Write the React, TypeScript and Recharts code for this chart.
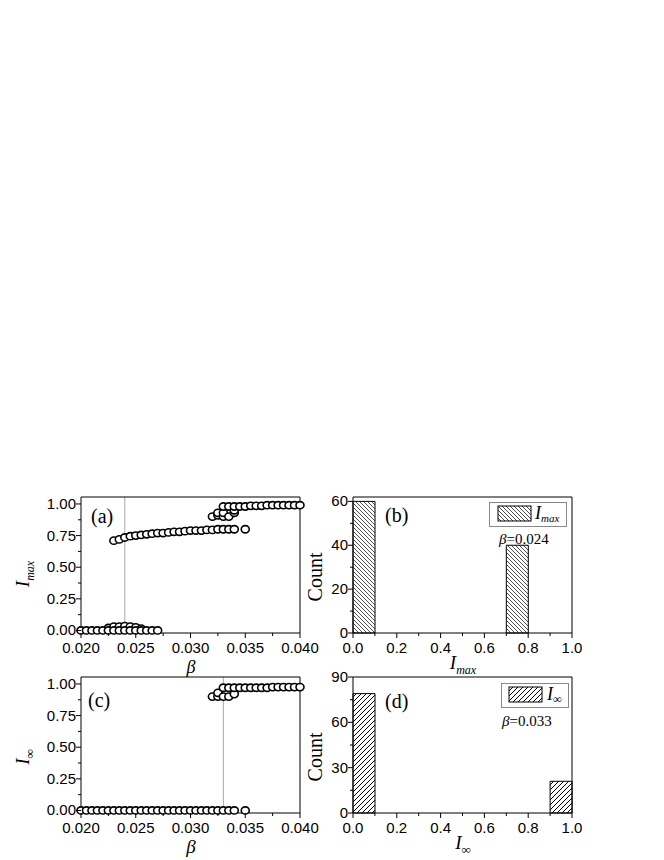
import {
  Bar,
  BarChart,
  ReferenceLine,
  Scatter,
  ScatterChart,
  XAxis,
  YAxis,
} from "recharts";

// panel (a): I_max vs beta as [beta, value]
const imaxBump: [number, number][] = [
  [0.0225, 0.02], [0.023, 0.03], [0.0235, 0.03], [0.024, 0.035],
  [0.0245, 0.03], [0.025, 0.025], [0.0255, 0.015],
];
const imaxZero: [number, number][] = [
  [0.02, 0], [0.0205, 0], [0.021, 0], [0.0215, 0], [0.022, 0], [0.0225, 0],
  [0.023, 0], [0.0235, 0], [0.024, 0], [0.0245, 0], [0.025, 0], [0.0255, 0],
  [0.026, 0], [0.0265, 0], [0.027, 0],
];
const imaxMid: [number, number][] = [
  [0.023, 0.71], [0.0235, 0.72], [0.024, 0.735], [0.0245, 0.745], [0.025, 0.75],
  [0.0255, 0.755], [0.026, 0.76], [0.0265, 0.765], [0.027, 0.77], [0.0275, 0.77],
  [0.028, 0.775], [0.0285, 0.78], [0.029, 0.78], [0.0295, 0.785], [0.03, 0.79],
  [0.0305, 0.79], [0.031, 0.79], [0.0315, 0.795], [0.032, 0.795], [0.0325, 0.8],
  [0.033, 0.8], [0.0335, 0.8], [0.034, 0.8], [0.035, 0.8],
];
const imaxHigh: [number, number][] = [
  [0.032, 0.9], [0.0325, 0.91], [0.0325, 0.93], [0.033, 0.9], [0.033, 0.93],
  [0.033, 0.98], [0.0335, 0.9], [0.0335, 0.98], [0.034, 0.93], [0.034, 0.95],
  [0.034, 0.98], [0.0345, 0.98], [0.035, 0.98], [0.0355, 0.985], [0.036, 0.985],
  [0.0365, 0.985], [0.037, 0.99], [0.0375, 0.99], [0.038, 0.99], [0.0385, 0.99],
  [0.039, 0.99], [0.0395, 0.99], [0.04, 0.99],
];

// panel (c): I_inf vs beta
const iinfZero: [number, number][] = [
  [0.02, 0], [0.0205, 0], [0.021, 0], [0.0215, 0], [0.022, 0], [0.0225, 0],
  [0.023, 0], [0.0235, 0], [0.024, 0], [0.0245, 0], [0.025, 0], [0.0255, 0],
  [0.026, 0], [0.0265, 0], [0.027, 0], [0.0275, 0], [0.028, 0], [0.0285, 0],
  [0.029, 0], [0.0295, 0], [0.03, 0], [0.0305, 0], [0.031, 0], [0.0315, 0],
  [0.032, 0], [0.0325, 0], [0.033, 0], [0.0335, 0], [0.034, 0], [0.035, 0],
];
const iinfHigh: [number, number][] = [
  [0.032, 0.9], [0.0325, 0.9], [0.0325, 0.93], [0.033, 0.9], [0.033, 0.97],
  [0.0335, 0.9], [0.0335, 0.97], [0.034, 0.92], [0.034, 0.97], [0.0345, 0.97],
  [0.035, 0.97], [0.0355, 0.97], [0.036, 0.97], [0.0365, 0.97], [0.037, 0.97],
  [0.0375, 0.975], [0.038, 0.975], [0.0385, 0.975], [0.039, 0.975], [0.0395, 0.975],
  [0.04, 0.975],
];

// panels (b), (d): histograms over 10 bins of width 0.1
const binCenters = [0.05, 0.15, 0.25, 0.35, 0.45, 0.55, 0.65, 0.75, 0.85, 0.95];
const imaxCounts = [60, 0, 0, 0, 0, 0, 0, 40, 0, 0];
const iinfCounts = [79, 0, 0, 0, 0, 0, 0, 0, 0, 21];

const betaMajor = [0.02, 0.025, 0.03, 0.035, 0.04];
const betaMinor = [0.0225, 0.0275, 0.0325, 0.0375];
const fracMajor = [0, 0.25, 0.5, 0.75, 1];
const fracMinor = [0.125, 0.375, 0.625, 0.875];
const binMajor = [0, 0.2, 0.4, 0.6, 0.8, 1];
const binMinor = [0.1, 0.3, 0.5, 0.7, 0.9];
const countMajorB = [0, 20, 40, 60];
const countMinorB = [10, 30, 50];
const countMajorD = [0, 30, 60, 90];
const countMinorD = [15, 45, 75];

const SANS = "'Liberation Sans', Arial, sans-serif";
const SERIF = "'Liberation Serif', 'Times New Roman', serif";

const toPts = (rows: [number, number][]) => rows.map(([b, v]) => ({ b, v }));
const merge = (a: number[], b: number[]) => [...a, ...b].sort((x, y) => x - y);
const isMajor = (v: number, majors: number[]) => majors.some((m) => Math.abs(m - v) < 1e-9);

function bottomTick(majors: number[], digits: number) {
  // eslint-disable-next-line @typescript-eslint/no-explicit-any
  return (props: any) => {
    const { x, y, payload } = props;
    const major = isMajor(payload.value, majors);
    return (
      <g>
        <line x1={x} y1={y} x2={x} y2={y + (major ? 5 : 3)} stroke="#000" />
        {major && (
          <text x={x} y={y + 20} textAnchor="middle" fontFamily={SANS} fontSize={15} fill="#000">
            {payload.value.toFixed(digits)}
          </text>
        )}
      </g>
    );
  };
}

function leftTick(majors: number[], digits: number) {
  // eslint-disable-next-line @typescript-eslint/no-explicit-any
  return (props: any) => {
    const { x, y, payload } = props;
    const major = isMajor(payload.value, majors);
    return (
      <g>
        <line x1={x} y1={y} x2={x - (major ? 5 : 3)} y2={y} stroke="#000" />
        {major && (
          <text x={x - 5} y={y + 5} textAnchor="end" fontFamily={SANS} fontSize={15} fill="#000">
            {payload.value.toFixed(digits)}
          </text>
        )}
      </g>
    );
  };
}

// eslint-disable-next-line @typescript-eslint/no-explicit-any
const ring = (p: any) => (
  <ellipse cx={p.cx} cy={p.cy} rx={4} ry={3.6} fill="#fff" stroke="#000" strokeWidth={1.6} />
);

const Y_MIN = -0.02;
const Y_MAX = 1.055;

function BetaPanel({ series, marker }: { series: [number, number][][]; marker: number }) {
  return (
    <ScatterChart width={320} height={180} margin={{ top: 17, right: 20, bottom: 0, left: 0 }}>
      <XAxis
        type="number"
        dataKey="b"
        domain={[0.02, 0.04]}
        ticks={merge(betaMajor, betaMinor)}
        interval={0}
        height={27}
        stroke="#000"
        tickLine={false}
        tickSize={0}
        tickMargin={0}
        tick={bottomTick(betaMajor, 3)}
      />
      <YAxis
        type="number"
        dataKey="v"
        domain={[Y_MIN, Y_MAX]}
        ticks={merge(fracMajor, fracMinor)}
        interval={0}
        width={81}
        stroke="#000"
        tickLine={false}
        tickSize={0}
        tickMargin={0}
        tick={leftTick(fracMajor, 2)}
      />
      <ReferenceLine x={marker} stroke="#a8a8a8" />
      {series.map((rows, i) => (
        <Scatter key={i} data={toPts(rows)} shape={ring} isAnimationActive={false} />
      ))}
      <ReferenceLine y={Y_MAX} stroke="#000" />
      <ReferenceLine x={0.04} stroke="#000" />
    </ScatterChart>
  );
}

function HistPanel({
  counts, pattern, yMax, majors, minors,
}: { counts: number[]; pattern: string; yMax: number; majors: number[]; minors: number[] }) {
  const data = binCenters.map((c, i) => ({ c, n: counts[i] }));
  return (
    <BarChart
      width={270}
      height={180}
      data={data}
      barCategoryGap={0}
      barGap={0}
      margin={{ top: 17, right: 28, bottom: 0, left: 0 }}
    >
      <XAxis
        type="number"
        dataKey="c"
        domain={[0, 1]}
        ticks={merge(binMajor, binMinor)}
        interval={0}
        height={27}
        stroke="#000"
        tickLine={false}
        tickSize={0}
        tickMargin={0}
        tick={bottomTick(binMajor, 1)}
      />
      <YAxis
        type="number"
        domain={[0, yMax]}
        ticks={merge(majors, minors)}
        interval={0}
        width={23}
        stroke="#000"
        tickLine={false}
        tickSize={0}
        tickMargin={0}
        tick={leftTick(majors, 0)}
      />
      <Bar dataKey="n" fill={`url(#${pattern})`} stroke="#000" strokeWidth={1} isAnimationActive={false} />
      <ReferenceLine y={yMax} stroke="#000" />
      <ReferenceLine x={1} stroke="#000" />
    </BarChart>
  );
}

function Overlay() {
  const it = { fontFamily: SERIF, fontStyle: "italic" as const };
  return (
    <svg
      width={664}
      height={860}
      style={{ position: "absolute", left: 0, top: 0, pointerEvents: "none" }}
    >
      <defs>
        <pattern id="hatchB" width={4} height={4} patternUnits="userSpaceOnUse">
          <path d="M-1,-1 L5,5 M-1,3 L1,5 M3,-1 L5,1" stroke="#000" strokeWidth={0.7} />
        </pattern>
        <pattern id="hatchD" width={5} height={5} patternUnits="userSpaceOnUse">
          <path d="M-1,6 L6,-1 M-1,1 L1,-1 M4,6 L6,4" stroke="#000" strokeWidth={1} />
        </pattern>
      </defs>

      {/* panel letters */}
      <g fontFamily={SERIF} fontSize={20} fill="#000">
        <text x={91} y={523}>(a)</text>
        <text x={385} y={522}>(b)</text>
        <text x={88} y={707}>(c)</text>
        <text x={385} y={708}>(d)</text>
      </g>

      {/* x titles */}
      <text x={191} y={673} textAnchor="middle" fontSize={18} {...it}>β</text>
      <text x={191} y={853} textAnchor="middle" fontSize={19} {...it}>β</text>
      <text x={463} y={669} textAnchor="middle" fontSize={19} {...it}>
        I<tspan fontSize={12} dy={5}>max</tspan>
      </text>
      <text x={463} y={849} textAnchor="middle" fontSize={19} {...it}>
        I<tspan fontSize={13} dy={5}>∞</tspan>
      </text>

      {/* y titles */}
      <text x={29} y={574} transform="rotate(-90 29 574)" textAnchor="middle" fontSize={19} {...it}>
        I<tspan fontSize={12} dy={5}>max</tspan>
      </text>
      <text x={29} y={757} transform="rotate(-90 29 757)" textAnchor="middle" fontSize={19} {...it}>
        I<tspan fontSize={13} dy={5}>∞</tspan>
      </text>
      <text x={322} y={577} transform="rotate(-90 322 577)" textAnchor="middle" fontSize={20} fontFamily={SERIF}>
        Count
      </text>
      <text x={322} y={757} transform="rotate(-90 322 757)" textAnchor="middle" fontSize={20} fontFamily={SERIF}>
        Count
      </text>

      {/* legend (b) */}
      <rect x={489.5} y={502.5} width={77} height={24} fill="#fff" stroke="#888" />
      <rect x={498} y={506} width={33} height={15} fill="url(#hatchB)" stroke="#000" />
      <text x={535} y={519} fontSize={18} {...it}>
        I<tspan fontSize={11} dy={3}>max</tspan>
      </text>
      <text x={499} y={544} fontSize={15} fontFamily={SERIF}>
        <tspan fontStyle="italic">β</tspan>=0.024
      </text>

      {/* legend (d) */}
      <rect x={501.5} y={683.5} width={67} height={24} fill="#fff" stroke="#888" />
      <rect x={509} y={687} width={33} height={15} fill="url(#hatchD)" stroke="#000" />
      <text x={547} y={700} fontSize={18} {...it}>
        I<tspan fontSize={12} dy={3}>∞</tspan>
      </text>
      <text x={502} y={726} fontSize={15} fontFamily={SERIF}>
        <tspan fontStyle="italic">β</tspan>=0.033
      </text>
    </svg>
  );
}

export default function App() {
  return (
    <div style={{ position: "absolute", left: 0, top: 0, width: 664, height: 860, background: "#fff" }}>
      <div style={{ position: "absolute", left: 0, top: 480 }}>
        <BetaPanel series={[imaxBump, imaxZero, imaxMid, imaxHigh]} marker={0.024} />
      </div>
      <div style={{ position: "absolute", left: 330, top: 480 }}>
        <HistPanel counts={imaxCounts} pattern="hatchB" yMax={62} majors={countMajorB} minors={countMinorB} />
      </div>
      <div style={{ position: "absolute", left: 0, top: 660 }}>
        <BetaPanel series={[iinfZero, iinfHigh]} marker={0.033} />
      </div>
      <div style={{ position: "absolute", left: 330, top: 660 }}>
        <HistPanel counts={iinfCounts} pattern="hatchD" yMax={90} majors={countMajorD} minors={countMinorD} />
      </div>
      <Overlay />
    </div>
  );
}
